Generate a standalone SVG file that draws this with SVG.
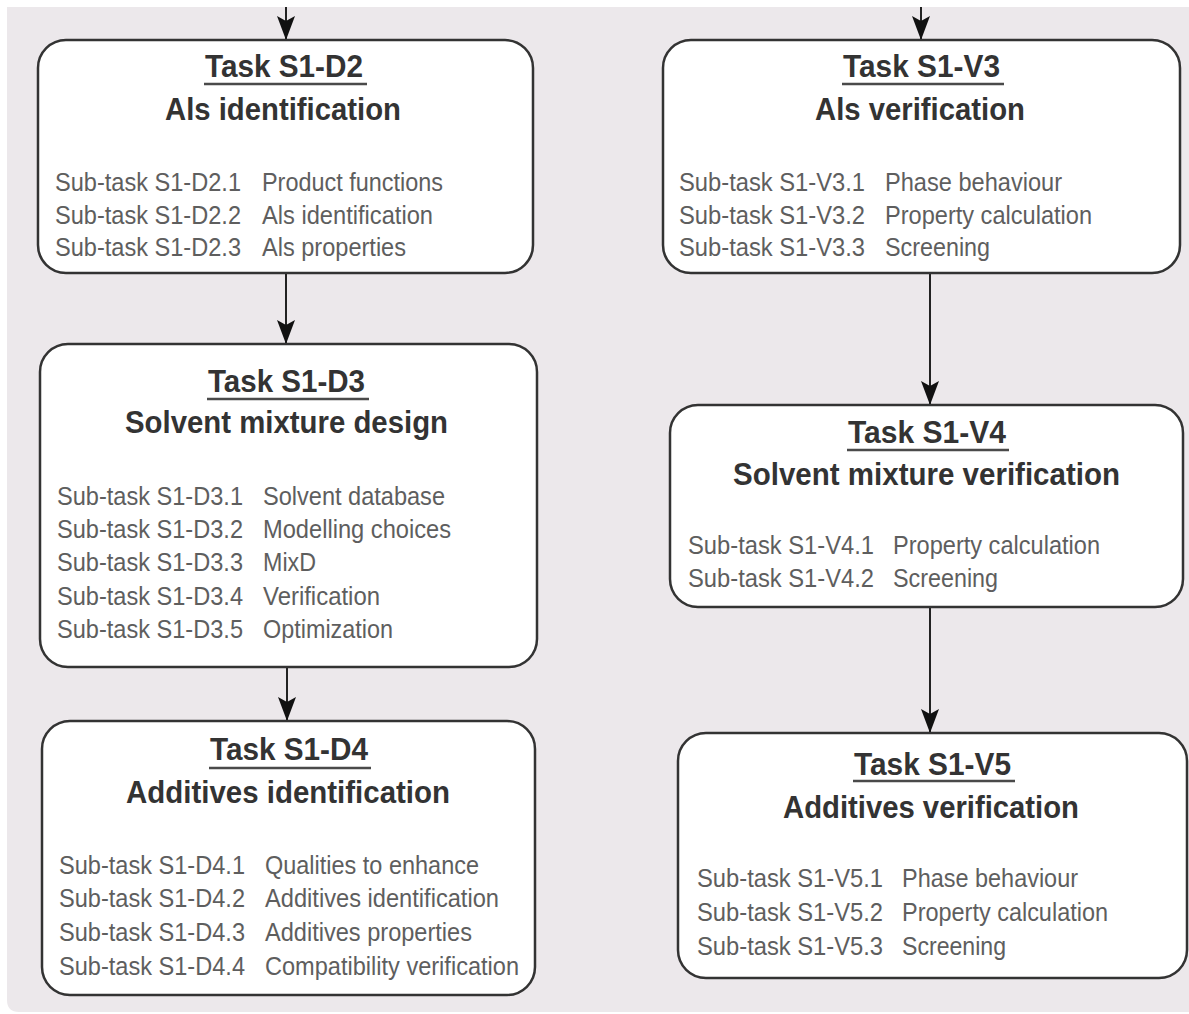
<svg xmlns="http://www.w3.org/2000/svg" width="1189" height="1014" viewBox="0 0 1189 1014">
  <style>
    .box { fill: #ffffff; stroke: #333333; stroke-width: 2.5; }
    .ttl { font-family: "Liberation Sans", Arial, sans-serif; font-weight: bold; font-size: 32px; fill: #333333; }
    .sub { font-family: "Liberation Sans", Arial, sans-serif; font-size: 25px; fill: #5e5e5e; }
    .ul { stroke: #4a4a4a; stroke-width: 2.5; }
    .link { stroke: #222222; stroke-width: 2; fill: none; marker-end: url(#head); }
  </style>
  <defs>
    <marker id="head" markerUnits="userSpaceOnUse" viewBox="0 0 24 18" refX="24" refY="9" markerWidth="24" markerHeight="18" orient="auto">
      <path d="M0,0 L24,9 L0,18 L5,9 z" fill="#111111"/>
    </marker>
  </defs>

  <!-- background panel -->
  <path d="M7,7 H1189 V1014 H1189 V1012 H19 Q7,1012 7,1000 Z" fill="#ece8eb"/>

  <g id="connectors">
    <line class="link" x1="286" y1="7" x2="286" y2="40"/>
    <line class="link" x1="921" y1="7" x2="921" y2="40"/>
    <line class="link" x1="286" y1="274" x2="286" y2="344"/>
    <line class="link" x1="287" y1="667" x2="287" y2="721"/>
    <line class="link" x1="930" y1="274" x2="930" y2="405"/>
    <line class="link" x1="930" y1="607" x2="930" y2="733"/>
  </g>

  <g id="task-s1-d2">
    <rect class="box" x="38" y="40" width="495" height="233" rx="28"/>
    <text class="ttl" x="205" y="77" textLength="158" lengthAdjust="spacingAndGlyphs">Task S1-D2</text>
    <line class="ul" x1="204" y1="84" x2="367" y2="84"/>
    <text class="ttl" x="165" y="120" textLength="236" lengthAdjust="spacingAndGlyphs">Als identification</text>
    <text class="sub" x="55" y="191" textLength="186" lengthAdjust="spacingAndGlyphs">Sub-task S1-D2.1</text>
    <text class="sub" x="55" y="224" textLength="186" lengthAdjust="spacingAndGlyphs">Sub-task S1-D2.2</text>
    <text class="sub" x="55" y="256" textLength="186" lengthAdjust="spacingAndGlyphs">Sub-task S1-D2.3</text>
    <text class="sub" x="262" y="191" textLength="181" lengthAdjust="spacingAndGlyphs">Product functions</text>
    <text class="sub" x="262" y="224" textLength="171" lengthAdjust="spacingAndGlyphs">Als identification</text>
    <text class="sub" x="262" y="256" textLength="144" lengthAdjust="spacingAndGlyphs">Als properties</text>
  </g>

  <g id="task-s1-d3">
    <rect class="box" x="40" y="344" width="497" height="323" rx="28"/>
    <text class="ttl" x="208" y="392" textLength="157" lengthAdjust="spacingAndGlyphs">Task S1-D3</text>
    <line class="ul" x1="207" y1="399" x2="369" y2="399"/>
    <text class="ttl" x="125" y="433" textLength="323" lengthAdjust="spacingAndGlyphs">Solvent mixture design</text>
    <text class="sub" x="57" y="505" textLength="186" lengthAdjust="spacingAndGlyphs">Sub-task S1-D3.1</text>
    <text class="sub" x="57" y="538" textLength="186" lengthAdjust="spacingAndGlyphs">Sub-task S1-D3.2</text>
    <text class="sub" x="57" y="571" textLength="186" lengthAdjust="spacingAndGlyphs">Sub-task S1-D3.3</text>
    <text class="sub" x="57" y="605" textLength="186" lengthAdjust="spacingAndGlyphs">Sub-task S1-D3.4</text>
    <text class="sub" x="57" y="638" textLength="186" lengthAdjust="spacingAndGlyphs">Sub-task S1-D3.5</text>
    <text class="sub" x="263" y="505" textLength="182" lengthAdjust="spacingAndGlyphs">Solvent database</text>
    <text class="sub" x="263" y="538" textLength="188" lengthAdjust="spacingAndGlyphs">Modelling choices</text>
    <text class="sub" x="263" y="571" textLength="53" lengthAdjust="spacingAndGlyphs">MixD</text>
    <text class="sub" x="263" y="605" textLength="117" lengthAdjust="spacingAndGlyphs">Verification</text>
    <text class="sub" x="263" y="638" textLength="130" lengthAdjust="spacingAndGlyphs">Optimization</text>
  </g>

  <g id="task-s1-d4">
    <rect class="box" x="42" y="721" width="493" height="274" rx="28"/>
    <text class="ttl" x="210" y="760" textLength="158" lengthAdjust="spacingAndGlyphs">Task S1-D4</text>
    <line class="ul" x1="209" y1="768" x2="371" y2="768"/>
    <text class="ttl" x="126" y="803" textLength="324" lengthAdjust="spacingAndGlyphs">Additives identification</text>
    <text class="sub" x="59" y="874" textLength="186" lengthAdjust="spacingAndGlyphs">Sub-task S1-D4.1</text>
    <text class="sub" x="59" y="907" textLength="186" lengthAdjust="spacingAndGlyphs">Sub-task S1-D4.2</text>
    <text class="sub" x="59" y="941" textLength="186" lengthAdjust="spacingAndGlyphs">Sub-task S1-D4.3</text>
    <text class="sub" x="59" y="975" textLength="186" lengthAdjust="spacingAndGlyphs">Sub-task S1-D4.4</text>
    <text class="sub" x="265" y="874" textLength="214" lengthAdjust="spacingAndGlyphs">Qualities to enhance</text>
    <text class="sub" x="265" y="907" textLength="234" lengthAdjust="spacingAndGlyphs">Additives identification</text>
    <text class="sub" x="265" y="941" textLength="207" lengthAdjust="spacingAndGlyphs">Additives properties</text>
    <text class="sub" x="265" y="975" textLength="254" lengthAdjust="spacingAndGlyphs">Compatibility verification</text>
  </g>

  <g id="task-s1-v3">
    <rect class="box" x="663" y="40" width="517" height="233" rx="28"/>
    <text class="ttl" x="843" y="77" textLength="157" lengthAdjust="spacingAndGlyphs">Task S1-V3</text>
    <line class="ul" x1="842" y1="84" x2="1004" y2="84"/>
    <text class="ttl" x="815" y="120" textLength="210" lengthAdjust="spacingAndGlyphs">Als verification</text>
    <text class="sub" x="679" y="191" textLength="186" lengthAdjust="spacingAndGlyphs">Sub-task S1-V3.1</text>
    <text class="sub" x="679" y="224" textLength="186" lengthAdjust="spacingAndGlyphs">Sub-task S1-V3.2</text>
    <text class="sub" x="679" y="256" textLength="186" lengthAdjust="spacingAndGlyphs">Sub-task S1-V3.3</text>
    <text class="sub" x="885" y="191" textLength="177" lengthAdjust="spacingAndGlyphs">Phase behaviour</text>
    <text class="sub" x="885" y="224" textLength="207" lengthAdjust="spacingAndGlyphs">Property calculation</text>
    <text class="sub" x="885" y="256" textLength="105" lengthAdjust="spacingAndGlyphs">Screening</text>
  </g>

  <g id="task-s1-v4">
    <rect class="box" x="670" y="405" width="513" height="202" rx="28"/>
    <text class="ttl" x="848" y="443" textLength="158" lengthAdjust="spacingAndGlyphs">Task S1-V4</text>
    <line class="ul" x1="847" y1="450" x2="1009" y2="450"/>
    <text class="ttl" x="733" y="485" textLength="387" lengthAdjust="spacingAndGlyphs">Solvent mixture verification</text>
    <text class="sub" x="688" y="554" textLength="186" lengthAdjust="spacingAndGlyphs">Sub-task S1-V4.1</text>
    <text class="sub" x="688" y="587" textLength="186" lengthAdjust="spacingAndGlyphs">Sub-task S1-V4.2</text>
    <text class="sub" x="893" y="554" textLength="207" lengthAdjust="spacingAndGlyphs">Property calculation</text>
    <text class="sub" x="893" y="587" textLength="105" lengthAdjust="spacingAndGlyphs">Screening</text>
  </g>

  <g id="task-s1-v5">
    <rect class="box" x="678" y="733" width="509" height="245" rx="28"/>
    <text class="ttl" x="854" y="775" textLength="157" lengthAdjust="spacingAndGlyphs">Task S1-V5</text>
    <line class="ul" x1="853" y1="781" x2="1015" y2="781"/>
    <text class="ttl" x="783" y="818" textLength="296" lengthAdjust="spacingAndGlyphs">Additives verification</text>
    <text class="sub" x="697" y="887" textLength="186" lengthAdjust="spacingAndGlyphs">Sub-task S1-V5.1</text>
    <text class="sub" x="697" y="921" textLength="186" lengthAdjust="spacingAndGlyphs">Sub-task S1-V5.2</text>
    <text class="sub" x="697" y="955" textLength="186" lengthAdjust="spacingAndGlyphs">Sub-task S1-V5.3</text>
    <text class="sub" x="902" y="887" textLength="176" lengthAdjust="spacingAndGlyphs">Phase behaviour</text>
    <text class="sub" x="902" y="921" textLength="206" lengthAdjust="spacingAndGlyphs">Property calculation</text>
    <text class="sub" x="902" y="955" textLength="104" lengthAdjust="spacingAndGlyphs">Screening</text>
  </g>
</svg>
